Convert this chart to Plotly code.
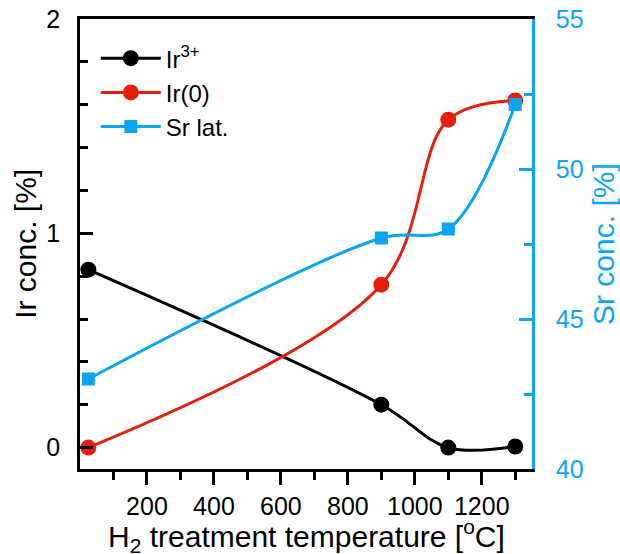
import plotly.graph_objects as go

temps = [25, 900, 1100, 1300]
ir3 = [0.83, 0.20, 0.0, 0.005]
ir0 = [0.0, 0.76, 1.53, 1.62]
sr_lat = [43.0, 47.7, 48.0, 52.15]

BLACK = "#000000"
RED = "#e3200b"
BLUE = "#0aa5f5"
FONT = "Liberation Sans, Arial, sans-serif"

fig = go.Figure()
fig.add_trace(go.Scatter(x=temps, y=ir3, name="Ir<sup>3+</sup>", mode="lines+markers",
                         line=dict(color=BLACK, width=3, shape="spline", smoothing=1),
                         marker=dict(symbol="circle", size=16, color=BLACK)))
fig.add_trace(go.Scatter(x=temps, y=ir0, name="Ir(0)", mode="lines+markers",
                         line=dict(color=RED, width=3, shape="spline", smoothing=1),
                         marker=dict(symbol="circle", size=16, color=RED)))
fig.add_trace(go.Scatter(x=temps, y=sr_lat, name="Sr lat.", mode="lines+markers", yaxis="y2",
                         line=dict(color=BLUE, width=3, shape="spline", smoothing=1),
                         marker=dict(symbol="square", size=13, color=BLUE)))

fig.update_layout(
    width=620, height=554,
    margin=dict(l=80, r=88, t=19, b=85),
    paper_bgcolor="white", plot_bgcolor="white",
    font=dict(family=FONT, size=25, color="black"),
    showlegend=True,
    legend=dict(x=0.035, y=0.962, xanchor="left", yanchor="top", itemwidth=60,
                bgcolor="rgba(0,0,0,0)", font=dict(size=24), tracegroupgap=0),
    xaxis=dict(range=[0, 1350], tickvals=[200, 400, 600, 800, 1000, 1200],
               automargin=False,
               showgrid=False, zeroline=False,
               showline=True, linecolor="black", linewidth=2.5, mirror=True,
               ticks="outside", ticklen=13, tickwidth=2.5, tickcolor="black",
               minor=dict(tickvals=[100, 300, 500, 700, 900, 1100, 1300], ticks="outside",
                          ticklen=8, tickwidth=2.5, tickcolor="black"),
               tickfont=dict(size=25)),
    yaxis=dict(range=[-0.1, 2.0], tickvals=[0, 1, 2],
               automargin=False,
               showgrid=False, zeroline=False,
               showline=True, linecolor="black", linewidth=2.5,
               ticks="inside", ticklen=13, tickwidth=2.5, tickcolor="black",
               minor=dict(tickvals=[0.2, 0.4, 0.6, 0.8, 1.2, 1.4, 1.6, 1.8], ticks="inside",
                          ticklen=8, tickwidth=2.5, tickcolor="black"),
               tickfont=dict(size=25), ticklabelstandoff=12),
    yaxis2=dict(range=[40, 55], tickvals=[40, 45, 50, 55], overlaying="y", side="right",
                anchor="x", automargin=False, showgrid=False, zeroline=False,
                showline=True, linecolor=BLUE, linewidth=2.5,
                ticks="inside", ticklen=13, tickwidth=2.5, tickcolor=BLUE,
                minor=dict(tickvals=[42.5, 47.5, 52.5], ticks="inside",
                           ticklen=8, tickwidth=2.5, tickcolor=BLUE),
                tickfont=dict(size=25, color=BLUE), ticklabelstandoff=16),
    annotations=[
        dict(text="H<sub>2</sub> treatment temperature [<sup>o</sup>C]", xref="paper", yref="paper",
             x=0.5, y=-0.148, xanchor="center", yanchor="middle", showarrow=False,
             font=dict(size=30, color="black")),
        dict(text="Ir conc. [%]", xref="paper", yref="paper", textangle=-90,
             x=-0.122, y=0.5, xanchor="center", yanchor="middle", showarrow=False,
             font=dict(size=30, color="black")),
        dict(text="Sr conc. [%]", xref="paper", yref="paper", textangle=-90,
             x=1.157, y=0.5, xanchor="center", yanchor="middle", showarrow=False,
             font=dict(size=30, color=BLUE)),
    ],
)

fig.write_html("out.html", config={"displayModeBar": False},
               post_script="document.body.style.margin='0px';")
